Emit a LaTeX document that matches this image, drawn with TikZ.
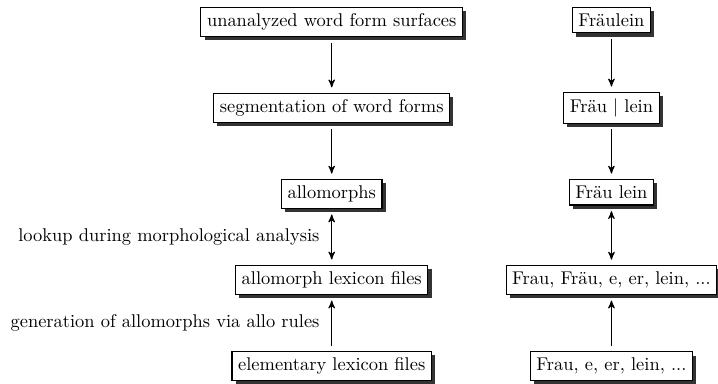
\documentclass[tikz,border=0pt]{standalone}
\usepackage{tikz}
\usetikzlibrary{shadows, arrows}

\begin{document}
\begin{tikzpicture}
        \useasboundingbox (0,0) rectangle (13.68,-7.30);
        \begin{scope}[every node/.style={draw,semithick,fill=white,anchor=base,drop shadow={opacity=1,fill=black!80,shadow xshift=2pt,shadow yshift=-2pt}}]
          \node (surf) at (6.32,-0.505) {unanalyzed word form surfaces};
          \node (seg) at (6.32,-2.145) {segmentation of word forms};
          \node (allo) at (6.32,-3.785) {allomorphs};
          \node (lex) at (6.32,-5.425) {allomorph lexicon files};
          \node (elem) at (6.32,-7.065) {elementary lexicon files};
          \node (frl) at (11.65,-0.505) {Fräulein};
          \node (frlseg) at (11.65,-2.145) {Fräu $|$ lein};
          \node (frlallo) at (11.65,-3.785) {Fräu lein};
          \node (frlex) at (11.65,-5.425) {Frau, Fräu, e, er, lein, ...};
          \node (frelem) at (11.65,-7.065) {Frau, e, er, lein, ...};
        \end{scope}
        \begin{scope}[>=stealth', every edge/.style={draw=black,semithick,->,shorten <=3pt,shorten >=3pt}]
          \path (surf) edge (seg);
          \path (seg) edge (allo);
          \path (allo) edge[<->] node[left=3pt] {lookup during morphological analysis} (lex);
          \path (elem) edge node[left=3pt] {generation of allomorphs via allo rules} (lex);
          \path (frl) edge (frlseg);
          \path (frlseg) edge (frlallo);
          \path (frlallo) edge[<->] (frlex);
          \path (frelem) edge (frlex);
        \end{scope}
      \end{tikzpicture}
\end{document}
